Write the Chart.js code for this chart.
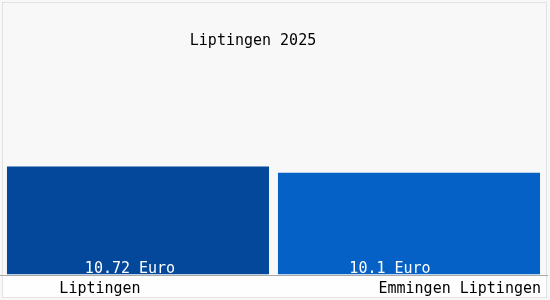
<!DOCTYPE html>
<html>
<head>
<meta charset="utf-8">
<script src="https://cdn.jsdelivr.net/npm/chart.js@4/dist/chart.umd.min.js"></script>
<style>
  html, body { margin:0; padding:0; background:#fbfbfb; }
  #wrap { width:550px; height:300px; position:relative; }
</style>
</head>
<body>
<div id="wrap"><canvas id="chart" width="550" height="300"></canvas></div>
<script>
// data
const title = 'Liptingen 2025';
const categories = ['Liptingen', 'Emmingen Liptingen'];
const values = [10.72, 10.1];
const valueLabels = ['10.72 Euro', '10.1 Euro'];
const barColors = ['#03489a', '#0561c5'];

const FONT = '15px "DejaVu Sans Mono", monospace';

// frame, title, value labels and category labels
const decor = {
  id: 'decor',
  beforeDraw(chart){
    const ctx = chart.ctx;
    const y0 = chart.scales.y.getPixelForValue(0);
    ctx.save();
    ctx.fillStyle = '#f8f8f8';
    ctx.fillRect(0, 0, 550, 300);
    ctx.fillStyle = '#fefefe';
    ctx.fillRect(2, y0, 545, 298 - y0);
    ctx.strokeStyle = '#e2e2e2';
    ctx.lineWidth = 1;
    ctx.strokeRect(2.5, 2.5, 544, 295);
    ctx.restore();
  },
  afterDraw(chart){
    const ctx = chart.ctx;
    const x = chart.scales.x, y = chart.scales.y;
    const y0 = y.getPixelForValue(0);
    ctx.save();
    ctx.strokeStyle = '#a8a8a8';
    ctx.beginPath();
    ctx.moveTo(0, Math.round(y0) + 0.5);
    ctx.lineTo(548, Math.round(y0) + 0.5);
    ctx.stroke();

    ctx.font = FONT;
    ctx.textBaseline = 'alphabetic';
    ctx.fillStyle = '#000';
    ctx.textAlign = 'center';
    ctx.fillText(title, 253, 45);

    // values inside bars
    ctx.fillStyle = '#fff';
    ctx.fillText(valueLabels[0], x.getPixelForTick(0) - 8, y0 - 2);
    ctx.fillText(valueLabels[1], x.getPixelForTick(1) - 19, y0 - 2);

    // category labels
    ctx.fillStyle = '#000';
    ctx.fillText(categories[0], 100, 293);
    ctx.textAlign = 'right';
    ctx.fillText(categories[1], 541, 293);
    ctx.restore();
  }
};

new Chart(document.getElementById('chart'), {
  type: 'bar',
  data: {
    labels: categories,
    datasets: [{
      data: values,
      backgroundColor: barColors,
      borderWidth: 0,
      categoryPercentage: 1,
      barPercentage: 0.967
    }]
  },
  options: {
    responsive: false,
    animation: false,
    layout: { padding: { left: 2.5, right: 5.5, top: 73, bottom: 25.5 } },
    plugins: { legend: { display: false }, title: { display: false }, tooltip: { enabled: false } },
    scales: {
      x: { display: false },
      y: { display: false, min: 0, max: 20 }
    }
  },
  plugins: [decor]
});
</script>
</body>
</html>
